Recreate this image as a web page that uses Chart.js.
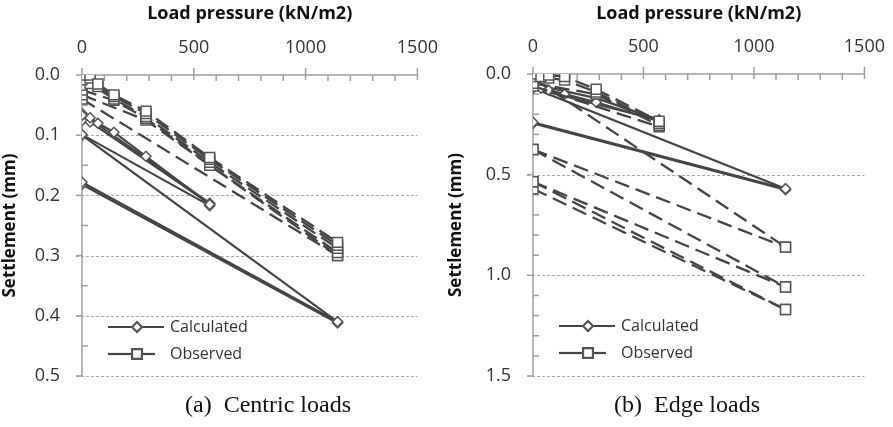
<!DOCTYPE html>
<html>
<head>
<meta charset="utf-8">
<script src="https://cdn.jsdelivr.net/npm/chart.js@4.4.0/dist/chart.umd.min.js"></script>
<style>
body{margin:0;background:#fff;width:893px;height:427px;overflow:hidden;position:relative;font-family:'Open Sans',sans-serif}
.panel{position:absolute;top:0;height:427px}
#p1{left:0;width:446px}
#p2{left:446px;width:447px}
.cap{position:absolute;top:391px;font-family:'Liberation Serif',serif;font-size:24px;color:#111;white-space:nowrap;transform:translateX(-50%)}
</style>
</head>
<body>
<div class="panel" id="p1"><canvas id="centricChart"></canvas></div>
<div class="panel" id="p2"><canvas id="edgeChart"></canvas></div>
<div class="cap" style="left:268px">(a)&nbsp;&nbsp;Centric loads</div>
<div class="cap" style="left:687px">(b)&nbsp;&nbsp;Edge loads</div>
<script>
// load steps (kN/m2) shared by all tests
var loads = [0, 36, 71, 143, 286, 571, 1143];

// (a) centric loads - calculated settlements (mm), null = no point
var centricCalc = [
  [0.067, 0.071, 0.080, 0.095, 0.135, 0.215, null],
  [0.064, null, null, null, null, 0.213, null],
  [0.076, 0.078, null, null, null, 0.214, null],
  [0.099, null, null, null, null, 0.217, null],
  [0.100, null, null, null, null, null, 0.410],
  [0.178, null, null, null, null, null, 0.410],
  [0.182, null, null, null, null, null, 0.412]
];
// (a) centric loads - observed settlements (mm)
var centricObs = [
  [0.000, 0.000, 0.015, 0.033, 0.060, 0.137, 0.278],
  [0.008, 0.005, 0.019, 0.036, 0.064, 0.140, 0.283],
  [0.017, 0.014, null, 0.040, 0.069, 0.145, 0.288],
  [0.025, null, null, 0.042, 0.072, 0.150, 0.295],
  [0.033, null, null, null, 0.075, 0.150, 0.300],
  [0.040, null, null, null, null, null, 0.300]
];

// (b) edge loads - calculated settlements (mm)
var edgeCalc = [
  [0.060, 0.070, 0.080, 0.100, 0.140, 0.235, null],
  [0.070, null, null, null, null, 0.230, null],
  [0.050, null, null, null, 0.120, 0.228, null],
  [0.070, null, null, null, null, null, 0.570],
  [0.240, null, null, null, null, null, 0.570],
  [0.245, null, null, null, null, null, 0.575]
];
// (b) edge loads - observed settlements (mm)
var edgeObs = [
  [0.000, 0.013, 0.005, 0.013, 0.076, 0.235, null],
  [0.013, null, 0.020, 0.030, 0.090, 0.245, null],
  [0.046, null, null, null, 0.100, 0.255, null],
  [0.060, null, null, null, null, 0.262, null],
  [0.020, null, null, null, null, null, 0.860],
  [0.375, null, null, null, null, null, 0.860],
  [0.375, null, null, null, null, null, 1.058],
  [0.535, null, null, null, null, null, 1.058],
  [0.535, null, null, null, null, null, 1.170],
  [0.570, null, null, null, null, null, 1.170]
];

var xTicks = [0, 500, 1000, 1500];
var centricYTicks = [0.0, 0.1, 0.2, 0.3, 0.4, 0.5];
var edgeYTicks = [0.0, 0.5, 1.0, 1.5];

var lineColor = '#454545';

function toPoints(arr) {
  var pts = [];
  arr.forEach(function(v, i) {
    if (v !== null) pts.push({x: loads[i], y: v});
  });
  return pts;
}

function buildDatasets(calc, obs) {
  var sets = [];
  obs.forEach(function(s) {
    sets.push({
      data: toPoints(s), showLine: true, borderColor: lineColor, borderWidth: 2.3,
      borderDash: [15, 7], pointStyle: 'rect', pointRadius: 7,
      pointBackgroundColor: '#fff', pointBorderColor: '#555', pointBorderWidth: 1.5
    });
  });
  calc.forEach(function(s) {
    sets.push({
      data: toPoints(s), showLine: true, borderColor: lineColor, borderWidth: 2.2,
      pointStyle: 'rectRot', pointRadius: 5,
      pointBackgroundColor: '#fff', pointBorderColor: '#555', pointBorderWidth: 1.5
    });
  });
  return sets;
}

// axis lines, dashed gridlines, major/minor tick marks
var axisDecor = {
  id: 'axisDecor',
  beforeDatasetsDraw: function(chart, args, o) {
    var ctx = chart.ctx, a = chart.chartArea, x = chart.scales.x, y = chart.scales.y;
    function line(x1, y1, x2, y2) { ctx.beginPath(); ctx.moveTo(x1, y1); ctx.lineTo(x2, y2); ctx.stroke(); }
    ctx.save();
    ctx.strokeStyle = '#a8a8a8'; ctx.lineWidth = 1; ctx.setLineDash([3, 2]);
    o.yMajor.forEach(function(v) {
      if (v === 0) return;
      var py = Math.round(y.getPixelForValue(v)) + 0.5;
      line(a.left - 6, py, a.right, py);
    });
    ctx.setLineDash([]);
    ctx.strokeStyle = '#9e9e9e'; ctx.lineWidth = 1.5;
    line(a.left, a.top, a.right, a.top);
    line(a.left, a.top, a.left, a.bottom);
    for (var v = 0; v <= 1500; v += 100) {
      var px = x.getPixelForValue(v);
      if (v % 500 === 0) line(px, a.top - 7, px, a.top + 5);
      else line(px, a.top, px, a.top + 6);
    }
    var top = o.yMajor[o.yMajor.length - 1];
    for (var k = 0; k * o.yMinor <= top + 1e-9; k++) {
      var val = k * o.yMinor, py2 = y.getPixelForValue(val);
      var isMajor = o.yMajor.some(function(m) { return Math.abs(m - val) < 1e-9; });
      if (isMajor) line(a.left - 6, py2, a.left, py2);
      else line(a.left, py2, a.left + 6, py2);
    }
    ctx.restore();
  }
};

// legend drawn inside the plot area
var innerLegend = {
  id: 'innerLegend',
  afterDraw: function(chart) {
    var ctx = chart.ctx, a = chart.chartArea;
    var x0 = a.left + 26, mx = a.left + 55;
    function line(x1, y1, x2, y2) { ctx.beginPath(); ctx.moveTo(x1, y1); ctx.lineTo(x2, y2); ctx.stroke(); }
    ctx.save();
    ctx.strokeStyle = lineColor; ctx.lineWidth = 2.2; ctx.setLineDash([]);
    var yc = a.top + 252, yo = a.top + 279;
    line(x0, yc, x0 + 56, yc);
    line(x0, yo, x0 + 23, yo);
    line(x0 + 35, yo, x0 + 47, yo);
    ctx.fillStyle = '#fff'; ctx.strokeStyle = '#555';
    Chart.helpers.drawPoint(ctx, {pointStyle: 'rectRot', radius: 5, borderWidth: 1.5}, mx, yc);
    Chart.helpers.drawPoint(ctx, {pointStyle: 'rect', radius: 7, borderWidth: 1.5}, x0 + 29, yo);
    ctx.fillStyle = '#333'; ctx.font = '16px "Open Sans"'; ctx.textBaseline = 'middle';
    ctx.fillText('Calculated', a.left + 88, yc);
    ctx.fillText('Observed', a.left + 88, yo);
    ctx.restore();
  }
};

function makeChart(id, calc, obs, yTicks, yMinor, leftW, topH, padR) {
  var yMax = yTicks[yTicks.length - 1];
  return new Chart(document.getElementById(id).getContext('2d'), {
    type: 'scatter',
    data: {datasets: buildDatasets(calc, obs)},
    options: {
      responsive: true,
      maintainAspectRatio: false,
      animation: false,
      layout: {padding: {left: 0, top: 0, right: padR, bottom: 51}},
      plugins: {
        legend: {display: false},
        tooltip: {enabled: false},
        axisDecor: {yMajor: yTicks, yMinor: yMinor}
      },
      scales: {
        x: {
          type: 'linear', position: 'top', min: xTicks[0], max: xTicks[xTicks.length - 1],
          afterBuildTicks: function(s) { s.ticks = xTicks.map(function(v) { return {value: v}; }); },
          ticks: {color: '#333', font: {family: 'Open Sans', size: 18}, padding: 8, maxRotation: 0,
                  callback: function(v) { return String(v); }},
          grid: {display: false}, border: {display: false},
          title: {display: true, text: 'Load pressure (kN/m2)', color: '#111',
                  font: {family: 'Open Sans', size: 18, weight: 'bold'}, padding: {top: 3, bottom: 0}},
          afterFit: function(s) { s.height = topH; }
        },
        y: {
          type: 'linear', reverse: true, min: 0, max: yMax,
          afterBuildTicks: function(s) { s.ticks = yTicks.map(function(v) { return {value: v}; }); },
          ticks: {color: '#333', font: {family: 'Open Sans', size: 18}, padding: 14,
                  callback: function(v) { return v.toFixed(1); }},
          grid: {display: false}, border: {display: false},
          title: {display: true, text: 'Settlement (mm)', color: '#111',
                  font: {family: 'Open Sans', size: 17, weight: 'bold'}, padding: {top: 0, bottom: 2}},
          afterFit: function(s) { s.width = leftW; }
        }
      }
    },
    plugins: [axisDecor, innerLegend]
  });
}

makeChart('centricChart', centricCalc, centricObs, centricYTicks, 0.05, 82, 75, 27);
makeChart('edgeChart', edgeCalc, edgeObs, edgeYTicks, 0.1, 87, 74, 23);
</script>
</body>
</html>
